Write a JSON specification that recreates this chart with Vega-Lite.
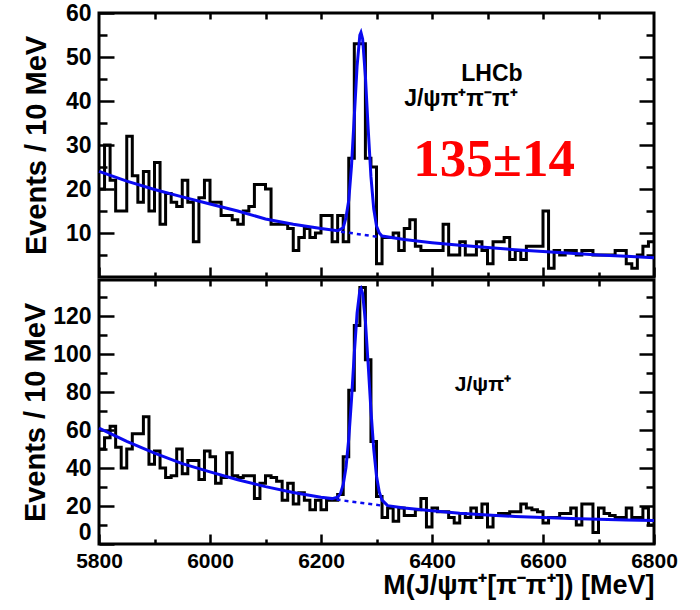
{
  "$schema": "https://vega.github.io/schema/vega-lite/v6.json",
  "background": "white",
  "padding": {"left": 20, "top": 0, "right": 5, "bottom": 2},
  "bounds": "flush",
  "spacing": 3,
  "config": {
    "view": {"stroke": "black", "strokeWidth": 3},
    "axis": {
      "grid": false, "domain": false,
      "labelFont": "Liberation Sans", "labelFontWeight": "bold", "labelFontSize": 23, "labelColor": "black",
      "titleFont": "Liberation Sans", "titleFontWeight": "bold", "titleFontSize": 29, "titleColor": "black",
      "tickColor": "black", "tickWidth": 2.5, "labelFlush": false
    }
  },
  "datasets": {
    "th": [
      {"m":5800,"n":20},{"m":5810,"n":30},{"m":5820,"n":22},{"m":5830,"n":15},{"m":5840,"n":15},{"m":5850,"n":32},{"m":5860,"n":23},{"m":5870,"n":17},{"m":5880,"n":24},{"m":5890,"n":15},
      {"m":5900,"n":26},{"m":5910,"n":12},{"m":5920,"n":19},{"m":5930,"n":17},{"m":5940,"n":16},{"m":5950,"n":22},{"m":5960,"n":17},{"m":5970,"n":8},{"m":5980,"n":18},{"m":5990,"n":22},
      {"m":6000,"n":17},{"m":6010,"n":17},{"m":6020,"n":14},{"m":6030,"n":14},{"m":6040,"n":13},{"m":6050,"n":12},{"m":6060,"n":15},{"m":6070,"n":16},{"m":6080,"n":21},{"m":6090,"n":21},
      {"m":6100,"n":20},{"m":6110,"n":12},{"m":6120,"n":12},{"m":6130,"n":12},{"m":6140,"n":11},{"m":6150,"n":6},{"m":6160,"n":9},{"m":6170,"n":11},{"m":6180,"n":9},{"m":6190,"n":10},
      {"m":6200,"n":14},{"m":6210,"n":14},{"m":6220,"n":8},{"m":6230,"n":14},{"m":6240,"n":8},{"m":6250,"n":27},{"m":6260,"n":53},{"m":6270,"n":53},{"m":6280,"n":27},{"m":6290,"n":25},
      {"m":6300,"n":3},{"m":6310,"n":9},{"m":6320,"n":9},{"m":6330,"n":10},{"m":6340,"n":6},{"m":6350,"n":11},{"m":6360,"n":13},{"m":6370,"n":7},{"m":6380,"n":6},{"m":6390,"n":6},
      {"m":6400,"n":6},{"m":6410,"n":6},{"m":6420,"n":12},{"m":6430,"n":5},{"m":6440,"n":5},{"m":6450,"n":8},{"m":6460,"n":5},{"m":6470,"n":5},{"m":6480,"n":8},{"m":6490,"n":6},
      {"m":6500,"n":3},{"m":6510,"n":8},{"m":6520,"n":8},{"m":6530,"n":9},{"m":6540,"n":4},{"m":6550,"n":6},{"m":6560,"n":4},{"m":6570,"n":7},{"m":6580,"n":7},{"m":6590,"n":7},
      {"m":6600,"n":15},{"m":6610,"n":2},{"m":6620,"n":6},{"m":6630,"n":5},{"m":6640,"n":6},{"m":6650,"n":6},{"m":6660,"n":5},{"m":6670,"n":6},{"m":6680,"n":6},{"m":6690,"n":5},
      {"m":6700,"n":5},{"m":6710,"n":5},{"m":6720,"n":5},{"m":6730,"n":6},{"m":6740,"n":6},{"m":6750,"n":3},{"m":6760,"n":2},{"m":6770,"n":5},{"m":6780,"n":7},{"m":6790,"n":8},
      {"m":6800,"n":8}
    ],
    "bh": [
      {"m":5800,"n":50},{"m":5810,"n":56},{"m":5820,"n":62},{"m":5830,"n":51},{"m":5840,"n":40},{"m":5850,"n":50},{"m":5860,"n":58},{"m":5870,"n":58},{"m":5880,"n":67},{"m":5890,"n":42},
      {"m":5900,"n":49},{"m":5910,"n":40},{"m":5920,"n":35},{"m":5930,"n":36},{"m":5940,"n":50},{"m":5950,"n":37},{"m":5960,"n":44},{"m":5970,"n":44},{"m":5980,"n":34},{"m":5990,"n":49},
      {"m":6000,"n":46},{"m":6010,"n":32},{"m":6020,"n":35},{"m":6030,"n":48},{"m":6040,"n":36},{"m":6050,"n":35},{"m":6060,"n":36},{"m":6070,"n":36},{"m":6080,"n":24},{"m":6090,"n":32},
      {"m":6100,"n":36},{"m":6110,"n":35},{"m":6120,"n":33},{"m":6130,"n":23},{"m":6140,"n":32},{"m":6150,"n":21},{"m":6160,"n":27},{"m":6170,"n":23},{"m":6180,"n":18},{"m":6190,"n":23},
      {"m":6200,"n":18},{"m":6210,"n":23},{"m":6220,"n":23},{"m":6230,"n":26},{"m":6240,"n":46},{"m":6250,"n":81},{"m":6260,"n":115},{"m":6270,"n":135},{"m":6280,"n":97},{"m":6290,"n":54},
      {"m":6300,"n":25},{"m":6310,"n":14},{"m":6320,"n":19},{"m":6330,"n":12},{"m":6340,"n":19},{"m":6350,"n":15},{"m":6360,"n":15},{"m":6370,"n":18},{"m":6380,"n":24},{"m":6390,"n":9},
      {"m":6400,"n":19},{"m":6410,"n":17},{"m":6420,"n":17},{"m":6430,"n":14},{"m":6440,"n":11},{"m":6450,"n":16},{"m":6460,"n":14},{"m":6470,"n":19},{"m":6480,"n":14},{"m":6490,"n":21},
      {"m":6500,"n":9},{"m":6510,"n":15},{"m":6520,"n":16},{"m":6530,"n":16},{"m":6540,"n":17},{"m":6550,"n":17},{"m":6560,"n":21},{"m":6570,"n":19},{"m":6580,"n":18},{"m":6590,"n":17},
      {"m":6600,"n":11},{"m":6610,"n":14},{"m":6620,"n":14},{"m":6630,"n":16},{"m":6640,"n":16},{"m":6650,"n":19},{"m":6660,"n":10},{"m":6670,"n":21},{"m":6680,"n":21},{"m":6690,"n":6},
      {"m":6700,"n":19},{"m":6710,"n":16},{"m":6720,"n":15},{"m":6730,"n":14},{"m":6740,"n":14},{"m":6750,"n":19},{"m":6760,"n":14},{"m":6770,"n":14},{"m":6780,"n":19},{"m":6790,"n":10},
      {"m":6800,"n":10}
    ],
    "tf": [
      {"m":5800,"f":24.0},{"m":5850,"f":21.8},{"m":5900,"f":19.9},{"m":5950,"f":18.2},{"m":6000,"f":16.6},{"m":6050,"f":15.0},{"m":6100,"f":13.2},{"m":6150,"f":12.0},{"m":6200,"f":11.0},
      {"m":6230,"f":10.5},{"m":6240,"f":11.2},{"m":6245,"f":13.5},{"m":6250,"f":17.4},{"m":6255,"f":25.3},{"m":6260,"f":36.5},{"m":6265,"f":47.9},{"m":6270,"f":55.0},{"m":6272,"f":55.6},
      {"m":6275,"f":54.1},{"m":6280,"f":45.6},{"m":6285,"f":33.7},{"m":6290,"f":22.8},{"m":6295,"f":15.5},{"m":6300,"f":11.6},{"m":6305,"f":10.0},{"m":6310,"f":9.3},
      {"m":6350,"f":8.5},{"m":6400,"f":7.8},{"m":6450,"f":7.2},{"m":6500,"f":6.7},{"m":6550,"f":6.2},{"m":6600,"f":5.8},{"m":6650,"f":5.4},{"m":6700,"f":5.0},{"m":6750,"f":4.7},{"m":6800,"f":4.4}
    ],
    "tb": [{"m":6236,"b":10.3},{"m":6304,"b":9.1}],
    "bf": [
      {"m":5800,"f":61.0},{"m":5850,"f":54.0},{"m":5900,"f":47.8},{"m":5950,"f":42.3},{"m":6000,"f":38.0},{"m":6050,"f":33.8},{"m":6100,"f":30.2},{"m":6150,"f":27.1},{"m":6200,"f":24.6},
      {"m":6220,"f":23.9},{"m":6230,"f":24.6},{"m":6235,"f":26.5},{"m":6240,"f":31.2},{"m":6245,"f":40.3},{"m":6250,"f":55.4},{"m":6255,"f":76.3},{"m":6260,"f":100.4},{"m":6265,"f":121.6},
      {"m":6270,"f":133.6},{"m":6272,"f":134.6},{"m":6275,"f":131.9},{"m":6280,"f":117.3},{"m":6285,"f":94.5},{"m":6290,"f":70.3},{"m":6295,"f":50.0},{"m":6300,"f":35.8},{"m":6305,"f":27.4},
      {"m":6310,"f":23.1},{"m":6320,"f":20.2},{"m":6350,"f":19.0},{"m":6400,"f":17.5},{"m":6450,"f":16.2},{"m":6500,"f":15.3},{"m":6550,"f":14.5},{"m":6600,"f":13.9},{"m":6650,"f":13.4},
      {"m":6700,"f":13.0},{"m":6750,"f":12.7},{"m":6800,"f":12.4}
    ],
    "bb": [{"m":6228,"b":23.4},{"m":6310,"b":20.2}],
    "t1": [{"m":6508,"v":46.1,"t":"LHCb"}],
    "t2": [{"m":6452,"v":40.5,"t":"J/ψπ⁺π⁻π⁺"}],
    "t3": [{"m":6512,"v":26.6,"t":"135±14"}],
    "t4": [{"m":6492,"v":83.7,"t":"J/ψπ⁺"}]
  },
  "vconcat": [
    {
      "width": 555, "height": 264,
      "resolve": {"axis": {"x": "independent", "y": "independent"}},
      "layer": [
        {
          "data": {"name": "th"},
          "mark": {"type": "line", "interpolate": "step-after", "color": "black", "strokeWidth": 3},
          "encoding": {
            "x": {"field": "m", "type": "quantitative", "scale": {"domain": [5800, 6800], "nice": false},
                  "axis": {"orient": "bottom", "values": [5800,6000,6200,6400,6600,6800], "labels": false, "tickSize": -10, "title": null}},
            "y": {"field": "n", "type": "quantitative", "scale": {"domain": [0, 60], "nice": false},
                  "axis": {"orient": "left", "values": [10,20,30,40,50,60], "tickSize": -15, "labelPadding": 23, "title": "Events / 10 MeV", "titlePadding": 14}}
          }
        },
        {
          "data": {"name": "tf"},
          "mark": {"type": "line", "color": "#0a0af0", "strokeWidth": 3},
          "encoding": {
            "x": {"field": "m", "type": "quantitative",
                  "axis": {"orient": "bottom", "values": [5900,6100,6300,6500,6700], "labels": false, "tickSize": -5, "title": null}},
            "y": {"field": "f", "type": "quantitative",
                  "axis": {"orient": "left", "values": [5,15,25,35,45,55], "labels": false, "tickSize": -8, "title": null}}
          }
        },
        {
          "data": {"name": "tb"},
          "mark": {"type": "line", "color": "#0a0af0", "strokeWidth": 2.5, "strokeDash": [4, 4]},
          "encoding": {
            "x": {"field": "m", "type": "quantitative",
                  "axis": {"orient": "top", "values": [5900,6000,6100,6200,6300,6400,6500,6600,6700], "labels": false, "tickSize": -6, "title": null}},
            "y": {"field": "b", "type": "quantitative",
                  "axis": {"orient": "right", "values": [10,20,30,40,50], "labels": false, "tickSize": -15, "title": null}}
          }
        },
        {
          "data": {"name": "t1"},
          "mark": {"type": "text", "font": "Liberation Sans", "fontWeight": "bold", "fontSize": 23, "color": "black", "align": "center", "baseline": "middle"},
          "encoding": {
            "x": {"field": "m", "type": "quantitative", "axis": null},
            "y": {"field": "v", "type": "quantitative",
                  "axis": {"orient": "right", "values": [5,15,25,35,45,55], "labels": false, "tickSize": -8, "title": null}},
            "text": {"field": "t"}
          }
        },
        {
          "data": {"name": "t2"},
          "mark": {"type": "text", "font": "Liberation Sans", "fontWeight": "bold", "fontSize": 23, "color": "black", "align": "center", "baseline": "middle"},
          "encoding": {
            "x": {"field": "m", "type": "quantitative", "axis": null},
            "y": {"field": "v", "type": "quantitative", "axis": null},
            "text": {"field": "t"}
          }
        },
        {
          "data": {"name": "t3"},
          "mark": {"type": "text", "font": "Liberation Serif", "fontWeight": "bold", "fontSize": 53, "color": "#ff0000", "align": "center", "baseline": "middle"},
          "encoding": {
            "x": {"field": "m", "type": "quantitative", "axis": null},
            "y": {"field": "v", "type": "quantitative", "axis": null},
            "text": {"field": "t"}
          }
        }
      ]
    },
    {
      "width": 555, "height": 264,
      "resolve": {"axis": {"x": "independent", "y": "independent"}},
      "layer": [
        {
          "data": {"name": "bh"},
          "mark": {"type": "line", "interpolate": "step-after", "color": "black", "strokeWidth": 3},
          "encoding": {
            "x": {"field": "m", "type": "quantitative", "scale": {"domain": [5800, 6800], "nice": false},
                  "axis": {"orient": "bottom", "values": [5800,6000,6200,6400,6600,6800], "format": "d", "labelFontSize": 21, "tickSize": -10, "labelPadding": 16, "title": "M(J/ψπ⁺[π⁻π⁺]) [MeV]", "titleFontSize": 27, "titleAnchor": "end", "titlePadding": 1}},
            "y": {"field": "n", "type": "quantitative", "scale": {"domain": [0, 139], "nice": false},
                  "axis": {"orient": "left", "values": [0,20,40,60,80,100,120], "labelFlush": true, "tickSize": -15, "labelPadding": 23, "title": "Events / 10 MeV", "titlePadding": 2}}
          }
        },
        {
          "data": {"name": "bf"},
          "mark": {"type": "line", "color": "#0a0af0", "strokeWidth": 3},
          "encoding": {
            "x": {"field": "m", "type": "quantitative",
                  "axis": {"orient": "bottom", "values": [5900,6100,6300,6500,6700], "labels": false, "tickSize": -5, "title": null}},
            "y": {"field": "f", "type": "quantitative",
                  "axis": {"orient": "left", "values": [10,30,50,70,90,110,130], "labels": false, "tickSize": -8, "title": null}}
          }
        },
        {
          "data": {"name": "bb"},
          "mark": {"type": "line", "color": "#0a0af0", "strokeWidth": 2.5, "strokeDash": [4, 4]},
          "encoding": {
            "x": {"field": "m", "type": "quantitative",
                  "axis": {"orient": "top", "values": [5900,6000,6100,6200,6300,6400,6500,6600,6700], "labels": false, "tickSize": -6, "title": null}},
            "y": {"field": "b", "type": "quantitative",
                  "axis": {"orient": "right", "values": [20,40,60,80,100,120], "labels": false, "tickSize": -15, "title": null}}
          }
        },
        {
          "data": {"name": "t4"},
          "mark": {"type": "text", "font": "Liberation Sans", "fontWeight": "bold", "fontSize": 21, "color": "black", "align": "center", "baseline": "middle"},
          "encoding": {
            "x": {"field": "m", "type": "quantitative", "axis": null},
            "y": {"field": "v", "type": "quantitative",
                  "axis": {"orient": "right", "values": [10,30,50,70,90,110,130], "labels": false, "tickSize": -8, "title": null}},
            "text": {"field": "t"}
          }
        }
      ]
    }
  ]
}
